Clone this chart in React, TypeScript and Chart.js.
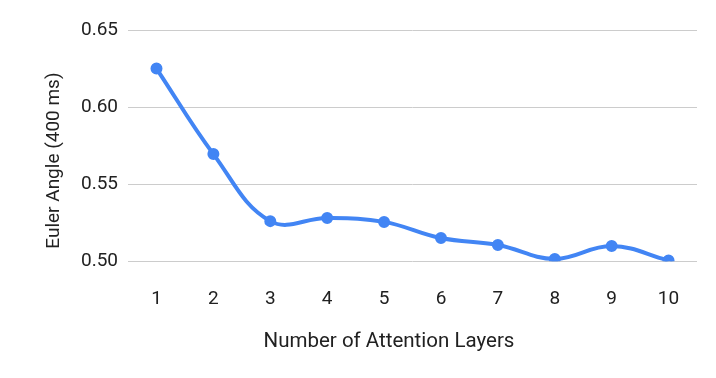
import React, { useEffect, useRef } from "react";
import { Chart, registerables } from "chart.js";

Chart.register(...registerables);

const categories = ["1", "2", "3", "4", "5", "6", "7", "8", "9", "10"];
const eulerAngle = [0.625, 0.5695, 0.526, 0.528, 0.5255, 0.515, 0.5105, 0.5015, 0.5098, 0.5005];
const yMin = 0.5;
const yMax = 0.65;
const yStep = 0.05;
const xTitle = "Number of Attention Layers";
const yTitle = "Euler Angle (400 ms)";

const TEXT = "#212121";

// Axis titles, placed the way the source chart centres them (on the whole plot block incl. tick labels)
const axisTitles = {
  id: "axisTitles",
  afterDraw(chart: any) {
    const { ctx, chartArea, scales } = chart;
    ctx.save();
    ctx.fillStyle = TEXT;
    ctx.textAlign = "center";
    ctx.textBaseline = "middle";
    // x title: centred between the left edge of the y tick labels and the right of the plot
    const yLabelsLeft = scales.y.left + 0; // left edge of y axis box
    ctx.font = "20.5px Roboto";
    ctx.fillText(xTitle, (yLabelsLeft + 10 + chartArea.right) / 2, chartArea.bottom + 81);
    // y title
    ctx.font = "19px Roboto";
    ctx.translate(scales.y.left - 16.5, (chartArea.top + chartArea.bottom) / 2 + 15);
    ctx.rotate(-Math.PI / 2);
    ctx.fillText(yTitle, 0, 0);
    ctx.restore();
  },
};

export default function App() {
  const ref = useRef<HTMLCanvasElement>(null);
  useEffect(() => {
    const ctx = ref.current!;
    const tickFont = { family: "Roboto", size: 19 };
    const chart = new Chart(ctx, {
      type: "line",
      data: {
        labels: categories,
        datasets: [
          {
            data: eulerAngle,
            borderColor: "#4285F4",
            backgroundColor: "#4285F4",
            borderWidth: 4,
            pointRadius: 4,
            pointHoverRadius: 4,
            tension: 0.4,
            fill: false,
          },
        ],
      },
      options: {
        animation: false,
        responsive: false,
        layout: { padding: { left: 71, right: 19, top: 30, bottom: 40 } },
        plugins: { legend: { display: false }, tooltip: { enabled: false } },
        scales: {
          x: {
            offset: true,
            grid: { display: false, drawTicks: false },
            border: { display: false },
            ticks: { color: TEXT, font: tickFont, padding: 27, maxRotation: 0 },
          },
          y: {
            min: yMin,
            max: yMax,
            grid: { color: "#cccccc", drawTicks: false, lineWidth: 1 },
            border: { display: false },
            ticks: {
              stepSize: yStep,
              color: TEXT,
              font: tickFont,
              padding: 10,
              callback: (v: any) => Number(v).toFixed(2),
            },
          },
        },
      },
      plugins: [axisTitles],
    });
    return () => chart.destroy();
  }, []);
  return (
    <div style={{ position: "fixed", left: 0, top: 0, width: 716, height: 378, background: "#fff" }}>
      <canvas ref={ref} width={716} height={378} style={{ display: "block" }} />
    </div>
  );
}
